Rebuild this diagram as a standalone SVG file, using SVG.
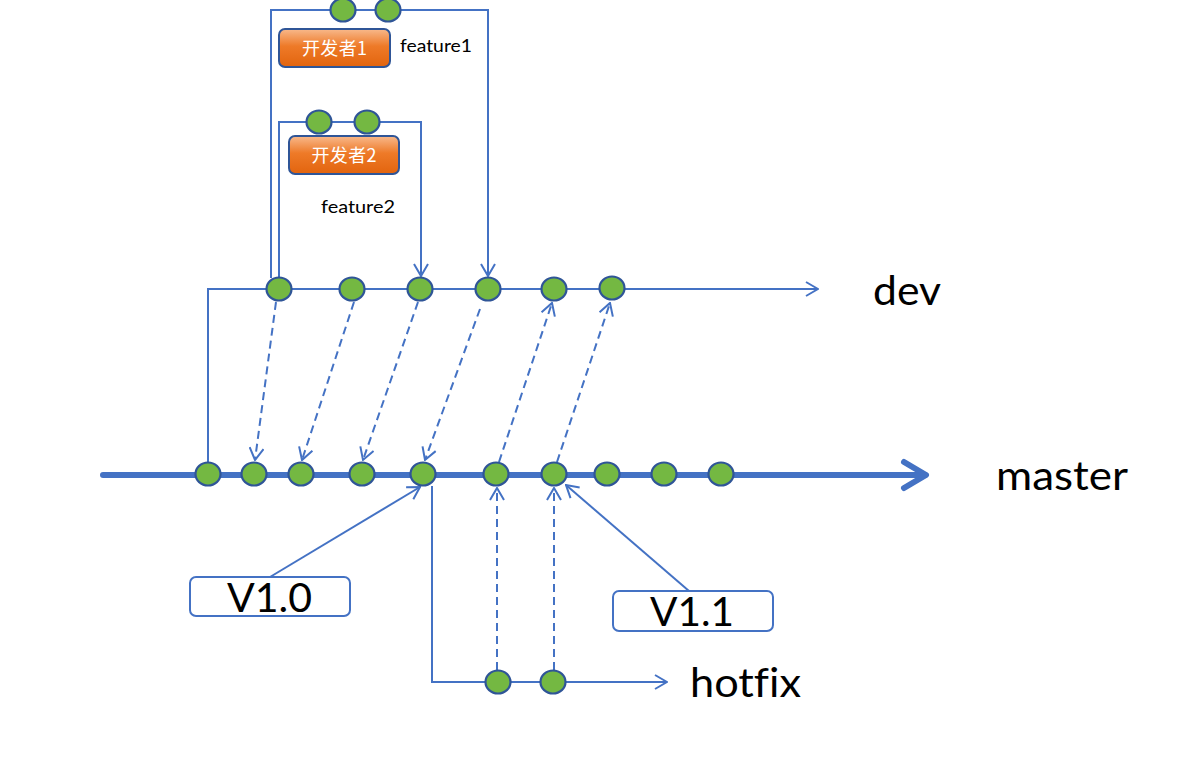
<svg xmlns="http://www.w3.org/2000/svg" width="1195" height="764" viewBox="0 0 1195 764">
<style>
.ln{fill:none;stroke:#4472C4;stroke-width:2;}
.dash{fill:none;stroke:#4472C4;stroke-width:2;stroke-dasharray:8,5;}
.nd{fill:#74B842;stroke:#2F5597;stroke-width:2.2;}
.lbl{font-family:Lato,"Open Sans",sans-serif;fill:#000;font-variant-ligatures:none;}
.tag{fill:#fff;stroke:#4472C4;stroke-width:2;}
.dv{fill:url(#og);stroke:#2F5597;stroke-width:2;}
.dvt{font-family:"Noto Sans CJK SC",sans-serif;fill:#fff;font-size:18px;text-anchor:middle;}
</style>
<defs>
<linearGradient id="og" x1="0" y1="0" x2="0" y2="1">
<stop offset="0" stop-color="#F8B98C"/>
<stop offset="0.45" stop-color="#EE7A28"/>
<stop offset="1" stop-color="#E2640E"/>
</linearGradient>
<marker id="ah" viewBox="0 0 14 16" refX="13" refY="8" markerWidth="14" markerHeight="16" markerUnits="userSpaceOnUse" orient="auto">
<path d="M1,1 L13,8 L1,15" fill="none" stroke="#4472C4" stroke-width="2"/>
</marker>
</defs>
<g id="connectors">
<line x1="103" y1="475" x2="925" y2="475" stroke="#4472C4" stroke-width="6" stroke-linecap="round"/>
<path d="M904,462 L926,475 L904,488" fill="none" stroke="#4472C4" stroke-width="6" stroke-linecap="round" stroke-linejoin="round"/>
<polyline class="ln" points="208,462 208,289 818,289" marker-end="url(#ah)"/>
<polyline class="ln" points="271,278 271,10 488,10 488,276" marker-end="url(#ah)"/>
<polyline class="ln" points="279,278 279,122 421,122 421,276" marker-end="url(#ah)"/>
<line class="dash" x1="276" y1="302" x2="255" y2="460" marker-end="url(#ah)"/>
<line class="dash" x1="354" y1="302" x2="302" y2="460" marker-end="url(#ah)"/>
<line class="dash" x1="418" y1="302" x2="363" y2="460" marker-end="url(#ah)"/>
<line class="dash" x1="480" y1="309" x2="425" y2="460" marker-end="url(#ah)"/>
<line class="dash" x1="499" y1="462" x2="552" y2="303" marker-end="url(#ah)"/>
<line class="dash" x1="557" y1="462" x2="610" y2="303" marker-end="url(#ah)"/>
<polyline class="ln" points="432,486 432,682 667,682" marker-end="url(#ah)"/>
<line class="dash" x1="497" y1="670" x2="497" y2="488" marker-end="url(#ah)"/>
<line class="dash" x1="554" y1="670" x2="554" y2="488" marker-end="url(#ah)"/>
<line class="ln" x1="270" y1="577" x2="420" y2="487" marker-end="url(#ah)"/>
<line class="ln" x1="689" y1="591" x2="566" y2="485" marker-end="url(#ah)"/>
</g>
<g id="feature1-nodes">
<ellipse class="nd" cx="343" cy="10" rx="12.5" ry="11.5"/>
<ellipse class="nd" cx="388" cy="10" rx="12.5" ry="11.5"/>
</g>
<g id="feature2-nodes">
<ellipse class="nd" cx="319" cy="122" rx="12.5" ry="11.5"/>
<ellipse class="nd" cx="367" cy="122" rx="12.5" ry="11.5"/>
</g>
<g id="dev-nodes">
<ellipse class="nd" cx="279" cy="289" rx="12.5" ry="11.5"/>
<ellipse class="nd" cx="352" cy="289" rx="12.5" ry="11.5"/>
<ellipse class="nd" cx="420" cy="289" rx="12.5" ry="11.5"/>
<ellipse class="nd" cx="488" cy="289" rx="12.5" ry="11.5"/>
<ellipse class="nd" cx="554" cy="289" rx="12.5" ry="11.5"/>
<ellipse class="nd" cx="612" cy="288" rx="12.5" ry="11.5"/>
</g>
<g id="master-nodes">
<ellipse class="nd" cx="208" cy="474" rx="12.5" ry="11.5"/>
<ellipse class="nd" cx="254" cy="474" rx="12.5" ry="11.5"/>
<ellipse class="nd" cx="301" cy="474" rx="12.5" ry="11.5"/>
<ellipse class="nd" cx="362" cy="474" rx="12.5" ry="11.5"/>
<ellipse class="nd" cx="423" cy="474" rx="12.5" ry="11.5"/>
<ellipse class="nd" cx="496" cy="474" rx="12.5" ry="11.5"/>
<ellipse class="nd" cx="554" cy="474" rx="12.5" ry="11.5"/>
<ellipse class="nd" cx="607" cy="474" rx="12.5" ry="11.5"/>
<ellipse class="nd" cx="664" cy="474" rx="12.5" ry="11.5"/>
<ellipse class="nd" cx="721" cy="474" rx="12.5" ry="11.5"/>
</g>
<g id="hotfix-nodes">
<ellipse class="nd" cx="498" cy="682" rx="12.5" ry="11.5"/>
<ellipse class="nd" cx="553" cy="682" rx="12.5" ry="11.5"/>
</g>
<g id="dev1">
<rect class="dv" x="279" y="29" width="111" height="38" rx="6"/>
<text class="dvt" x="334.5" y="55" textLength="65">开发者1</text>
</g>
<g id="dev2">
<rect class="dv" x="289" y="136" width="110" height="38" rx="6"/>
<text class="dvt" x="344" y="162" textLength="65">开发者2</text>
</g>
<g id="labels">
<text class="lbl" x="400" y="52" font-size="18" textLength="72" lengthAdjust="spacingAndGlyphs">feature1</text>
<text class="lbl" x="321" y="213" font-size="18" textLength="74" lengthAdjust="spacingAndGlyphs">feature2</text>
<text class="lbl" x="873" y="305" font-size="40" textLength="68" lengthAdjust="spacingAndGlyphs">dev</text>
<text class="lbl" x="996" y="490" font-size="40" textLength="132" lengthAdjust="spacingAndGlyphs">master</text>
<text class="lbl" x="690" y="697" font-size="40" textLength="111" lengthAdjust="spacingAndGlyphs">hotfix</text>
</g>
<g id="v10">
<rect class="tag" x="190" y="577" width="160" height="39" rx="6"/>
<text class="lbl" x="227" y="612" font-size="40" textLength="85" lengthAdjust="spacingAndGlyphs">V1.0</text>
</g>
<g id="v11">
<rect class="tag" x="613" y="591" width="160" height="40" rx="6"/>
<text class="lbl" x="650" y="626" font-size="40" textLength="84" lengthAdjust="spacingAndGlyphs">V1.1</text>
</g>
</svg>
